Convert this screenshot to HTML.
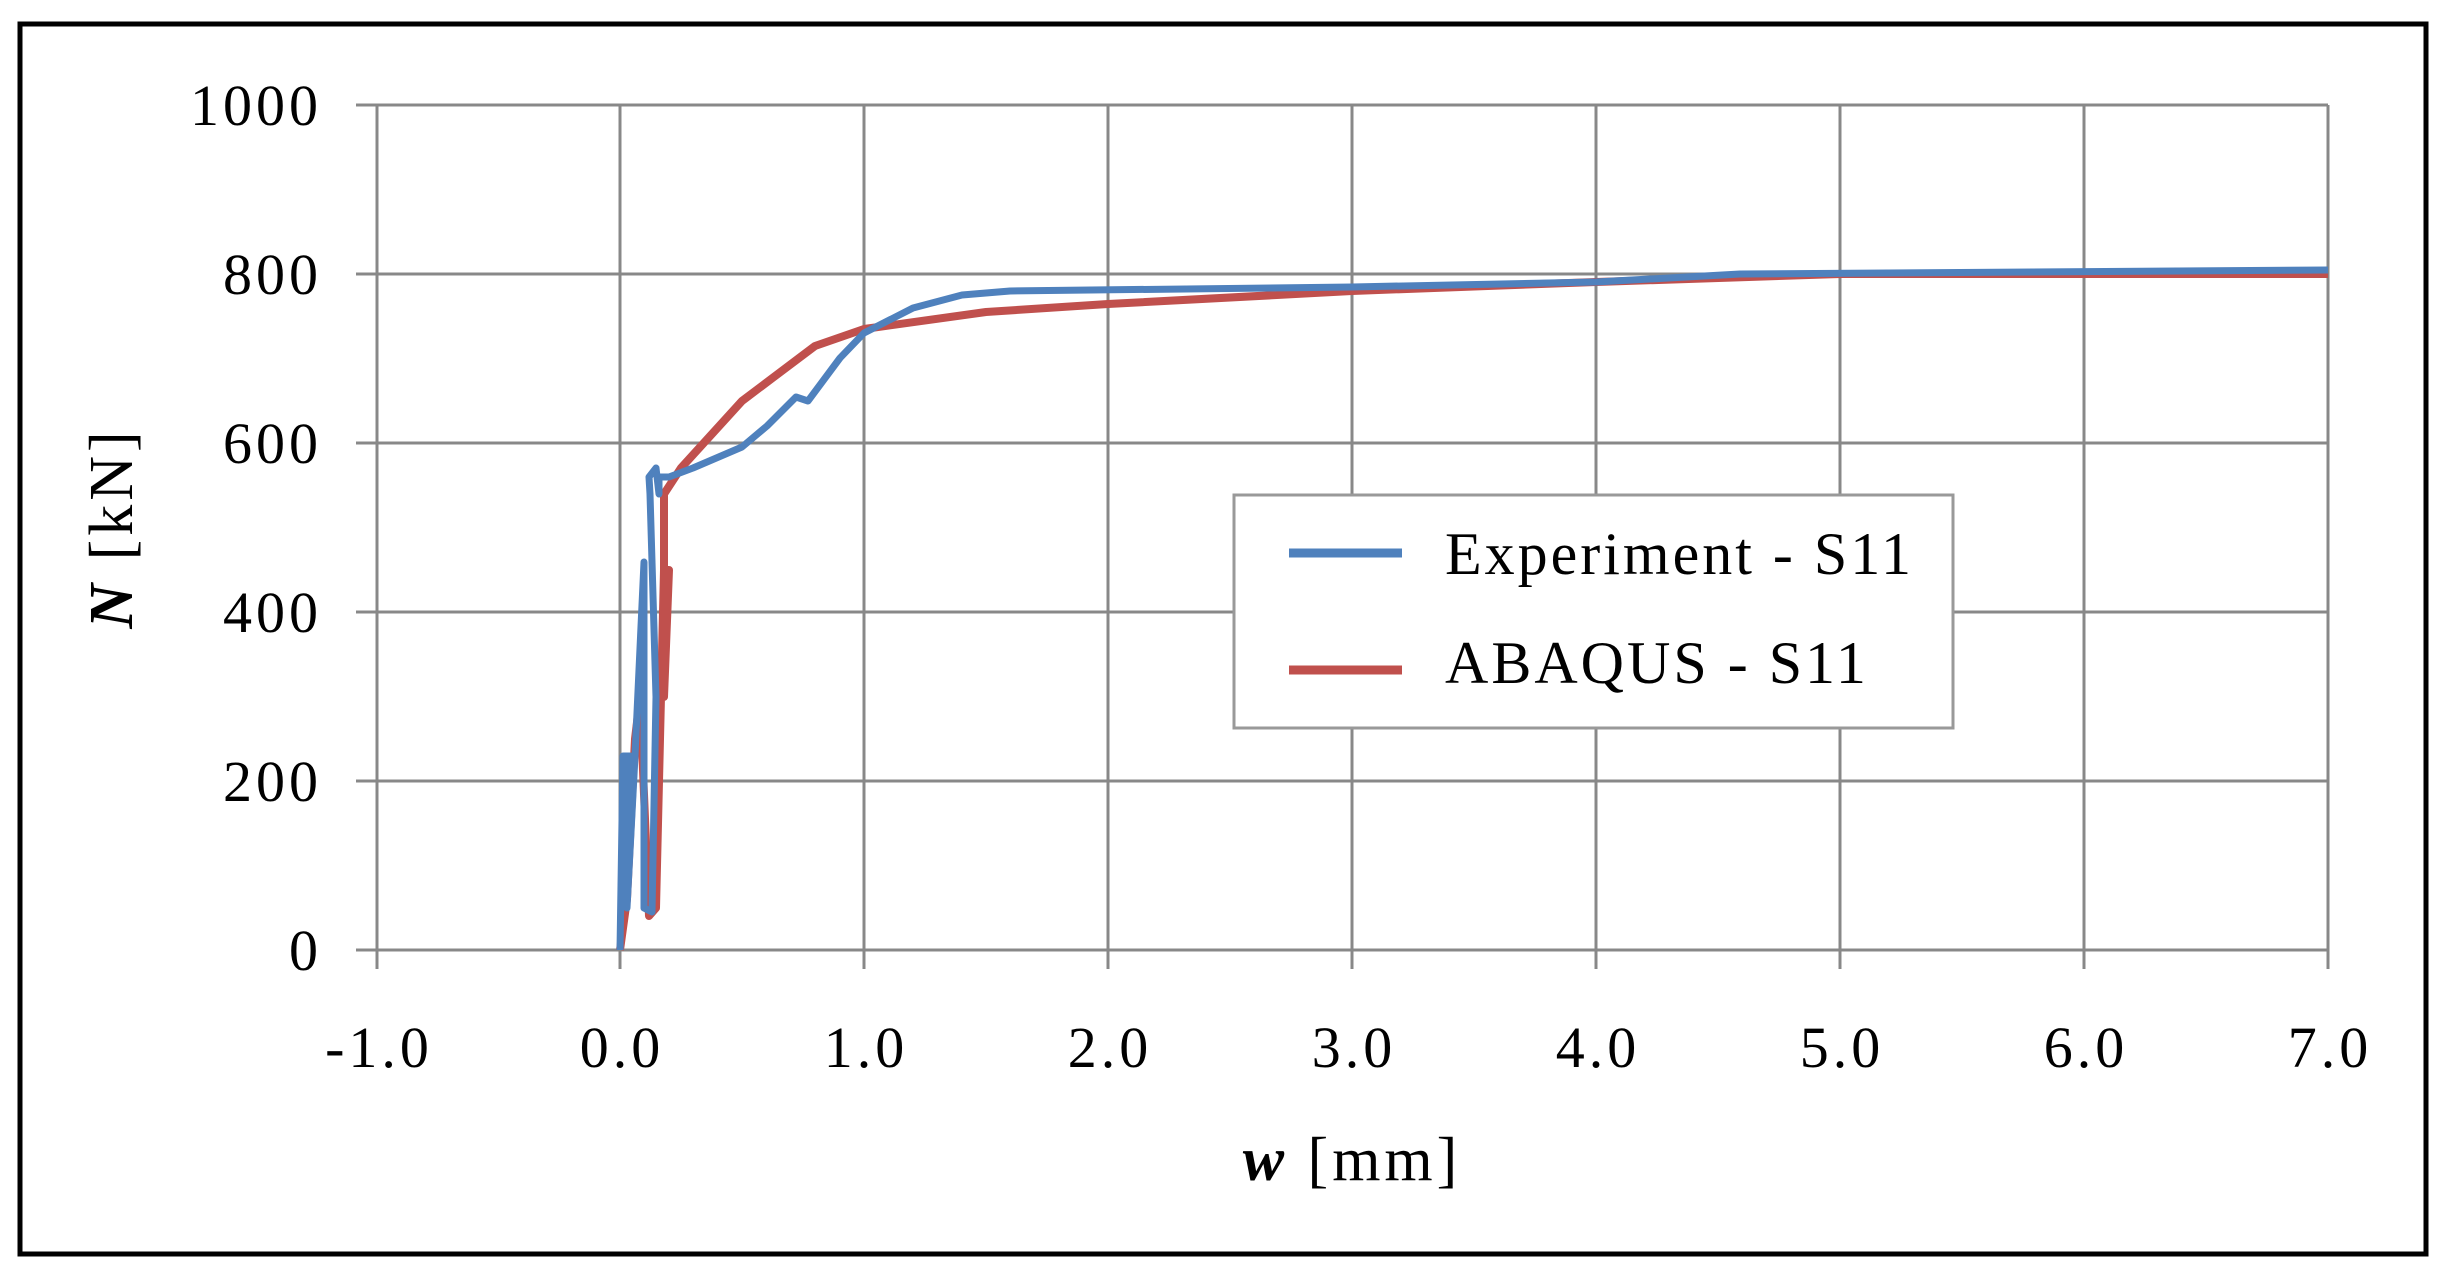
<!DOCTYPE html>
<html><head><meta charset="utf-8"><style>
html,body{margin:0;padding:0;background:#fff}
svg{display:block}
text{font-family:"Liberation Serif",serif;fill:#000}
</style></head><body>
<svg width="2450" height="1277" viewBox="0 0 2450 1277" xmlns="http://www.w3.org/2000/svg">
<rect x="0" y="0" width="2450" height="1277" fill="#fff"/>
<rect x="20" y="24" width="2406" height="1230" fill="none" stroke="#000" stroke-width="5"/>
<g stroke="#888" stroke-width="3" fill="none">
<line x1="356" y1="105" x2="2328" y2="105"/>
<line x1="356" y1="274" x2="2328" y2="274"/>
<line x1="356" y1="443" x2="2328" y2="443"/>
<line x1="356" y1="612" x2="2328" y2="612"/>
<line x1="356" y1="781" x2="2328" y2="781"/>
<line x1="356" y1="950" x2="2328" y2="950"/>
<line x1="377" y1="105" x2="377" y2="969"/>
<line x1="620" y1="105" x2="620" y2="969"/>
<line x1="864" y1="105" x2="864" y2="969"/>
<line x1="1108" y1="105" x2="1108" y2="969"/>
<line x1="1352" y1="105" x2="1352" y2="969"/>
<line x1="1596" y1="105" x2="1596" y2="969"/>
<line x1="1840" y1="105" x2="1840" y2="969"/>
<line x1="2084" y1="105" x2="2084" y2="969"/>
<line x1="2328" y1="105" x2="2328" y2="969"/>
</g>
<g font-size="58" letter-spacing="4" text-anchor="end">
<text x="322" y="125">1000</text>
<text x="322" y="294">800</text>
<text x="322" y="463">600</text>
<text x="322" y="632">400</text>
<text x="322" y="801">200</text>
<text x="322" y="970">0</text>
</g>
<g font-size="58" letter-spacing="4" text-anchor="middle">
<text x="379" y="1067">-1.0</text>
<text x="622" y="1067">0.0</text>
<text x="866" y="1067">1.0</text>
<text x="1110" y="1067">2.0</text>
<text x="1354" y="1067">3.0</text>
<text x="1598" y="1067">4.0</text>
<text x="1842" y="1067">5.0</text>
<text x="2086" y="1067">6.0</text>
<text x="2330" y="1067">7.0</text>
</g>
<text x="1352" y="1180" font-size="62" letter-spacing="4" text-anchor="middle"><tspan font-weight="bold" font-style="italic">w</tspan>  [mm]</text>
<text transform="translate(132,528) rotate(-90)" font-size="62" letter-spacing="4" text-anchor="middle"><tspan font-weight="bold" font-style="italic">N</tspan> [kN]</text>
<!-- red ABAQUS -->
<polyline fill="none" stroke="#c0504d" stroke-width="8" stroke-linejoin="round" points="620,950 627,899 635,739 640,697 649,916 656,908 664,570 669,570 664,697 664,494 681,468 742,401 815,346 864,329 986,312 1108,304 1352,291 1596,282 1840,274 2328,274"/>
<!-- blue Experiment -->
<polyline fill="none" stroke="#4f81bd" stroke-width="7" stroke-linejoin="round" points="620,950 623,756 630,756 627,908 635,756 644,562 644,908 652,912 656,697 650,494 649,477 656,468 659,494 659,477 669,477 693,468 742,447 767,426 796,397 808,401 840,358 864,333 913,308 962,295 1010,291 1352,287 1596,282 1740,274 2328,270"/>
<rect x="1234" y="495" width="719" height="233" fill="#fff" stroke="#999" stroke-width="3"/>
<line x1="1289" y1="553" x2="1402" y2="553" stroke="#4f81bd" stroke-width="9"/>
<line x1="1289" y1="670" x2="1402" y2="670" stroke="#c0504d" stroke-width="9"/>
<text x="1445" y="574" font-size="60" letter-spacing="3">Experiment - S11</text>
<text x="1445" y="683" font-size="60" letter-spacing="3">ABAQUS - S11</text>
</svg>
</body></html>
